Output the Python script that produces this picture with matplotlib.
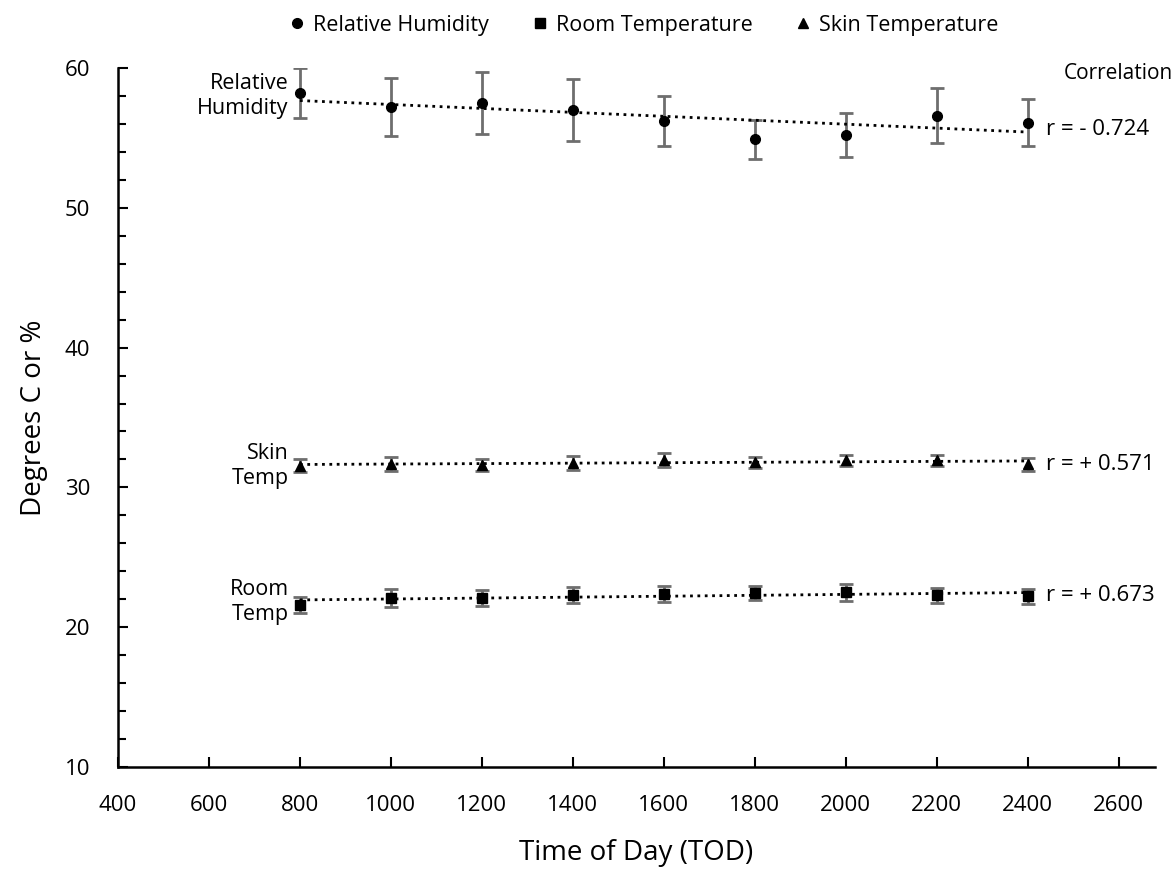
import numpy as np
import matplotlib.pyplot as plt
from matplotlib.ticker import MultipleLocator

plt.rcParams['font.family'] = ['Open Sans', 'DejaVu Sans']

# data
tod = [800, 1000, 1200, 1400, 1600, 1800, 2000, 2200, 2400]
rh = [58.2, 57.2, 57.5, 57.0, 56.2, 54.9, 55.2, 56.6, 56.1]
rh_err = [1.8, 2.1, 2.2, 2.2, 1.8, 1.4, 1.6, 2.0, 1.7]
room = [21.6, 22.1, 22.1, 22.3, 22.4, 22.45, 22.5, 22.3, 22.2]
room_err = [0.55, 0.65, 0.55, 0.6, 0.57, 0.5, 0.6, 0.54, 0.56]
skin = [31.55, 31.7, 31.6, 31.75, 31.95, 31.8, 31.95, 31.95, 31.65]
skin_err = [0.45, 0.5, 0.45, 0.5, 0.5, 0.4, 0.4, 0.4, 0.45]
corr = ['r = - 0.724', 'r = + 0.571', 'r = + 0.673']

fig = plt.figure(figsize=(11.71, 8.75), dpi=100)
ax = fig.add_axes([0.1008, 0.1234, 0.8855, 0.7989])

x = np.array(tod)
series = [
    (rh, rh_err, 'o', 9, 'Relative Humidity'),
    (room, room_err, 's', 9, 'Room Temperature'),
    (skin, skin_err, '^', 9, 'Skin Temperature'),
]
for vals, err, mk, ms, lab in series:
    ax.errorbar(x, vals, yerr=err, fmt='none', ecolor='#6e6e6e',
                elinewidth=2, capsize=5, capthick=2, zorder=2)
    ax.plot(x, vals, mk, color='black', markersize=ms, label=lab, zorder=4)
    k, b = np.polyfit(x, vals, 1)
    ax.plot(x, k * x + b, ':', color='black', linewidth=2, zorder=3)

ax.set_xlim(400, 2680)
ax.set_ylim(10, 60)
ax.set_xticks(np.arange(400, 2601, 200))
ax.yaxis.set_major_locator(MultipleLocator(10))
ax.yaxis.set_minor_locator(MultipleLocator(2))
ax.tick_params(axis='both', which='both', direction='in', width=1.5,
               labelsize=16, colors='black')
ax.tick_params(axis='both', which='major', length=7, pad=20)
ax.tick_params(axis='y', which='minor', length=6)
for s in ['top', 'right']:
    ax.spines[s].set_visible(False)
for s in ['left', 'bottom']:
    ax.spines[s].set_linewidth(1.8)

ax.set_xlabel('Time of Day (TOD)', fontsize=20, labelpad=17)
ax.set_ylabel('Degrees C or %', fontsize=20, labelpad=12)

# series labels on the left
ax.text(775, 58.0, 'Relative\nHumidity', ha='right', va='center',
        fontsize=15.5, linespacing=1.25)
ax.text(775, 31.5, 'Skin\nTemp', ha='right', va='center',
        fontsize=15.5, linespacing=1.25)
ax.text(775, 21.8, 'Room\nTemp', ha='right', va='center',
        fontsize=15.5, linespacing=1.25)

# correlation labels on the right
ax.text(2600, 59.6, 'Correlation', ha='center', va='center', fontsize=15,
        clip_on=False)
ax.text(2440, 55.6, corr[0], ha='left', va='center', fontsize=16, clip_on=False)
ax.text(2440, 31.65, corr[1], ha='left', va='center', fontsize=16, clip_on=False)
ax.text(2440, 22.3, corr[2], ha='left', va='center', fontsize=16, clip_on=False)

handles, labels = ax.get_legend_handles_labels()
for h in handles:
    h.set_markersize(7)
fig.legend(handles, labels, loc='upper center', bbox_to_anchor=(0.55, 1.005),
           ncol=3, frameon=False, fontsize=15.5, handlelength=0.7,
           handletextpad=0.4, columnspacing=2.0)

fig.savefig('out.png', dpi=100)
